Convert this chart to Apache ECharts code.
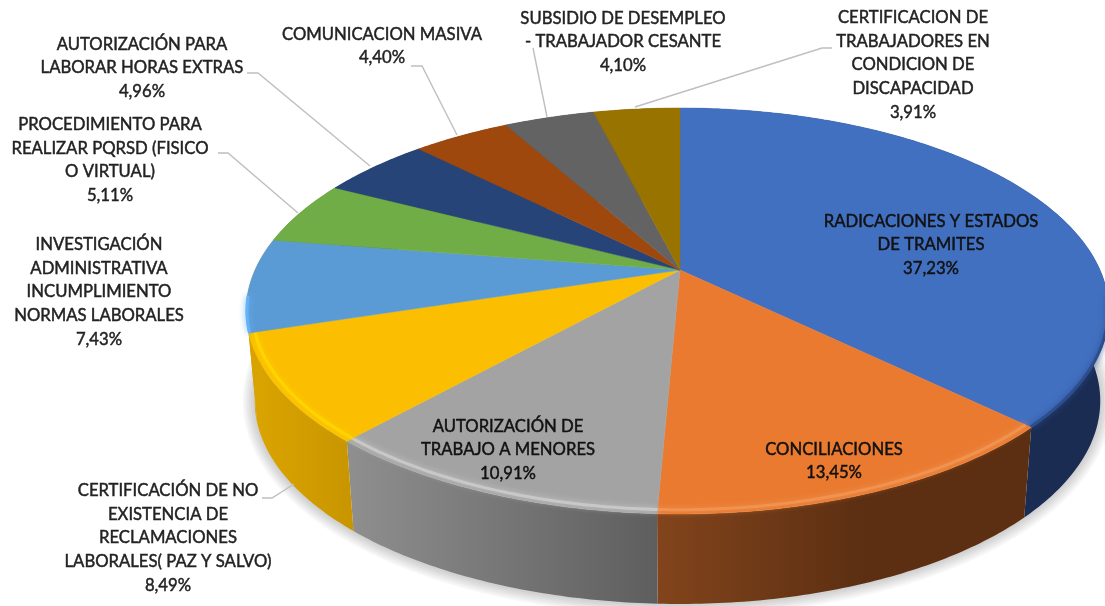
<!DOCTYPE html>
<html>
<head>
<meta charset="utf-8">
<script src="https://cdn.jsdelivr.net/npm/echarts@6/dist/echarts.min.js"></script>
<style>
  html, body { margin: 0; background: #fff; }
  #main { width: 1105px; height: 606px; filter: blur(0.45px); }
</style>
</head>
<body>
<div id="main"></div>
<script>
// datos
const names = [
  'RADICACIONES Y ESTADOS\nDE TRAMITES',
  'CONCILIACIONES',
  'AUTORIZACIÓN DE\nTRABAJO A MENORES',
  'CERTIFICACIÓN DE NO\nEXISTENCIA DE\nRECLAMACIONES\nLABORALES( PAZ Y SALVO)',
  'INVESTIGACIÓN\nADMINISTRATIVA\nINCUMPLIMIENTO\nNORMAS LABORALES',
  'PROCEDIMIENTO PARA\nREALIZAR PQRSD (FISICO\nO VIRTUAL)',
  'AUTORIZACIÓN PARA\nLABORAR HORAS EXTRAS',
  'COMUNICACION MASIVA',
  'SUBSIDIO DE DESEMPLEO\n- TRABAJADOR CESANTE',
  'CERTIFICACION DE\nTRABAJADORES EN\nCONDICION DE\nDISCAPACIDAD'
]
const values = [37.23, 13.45, 10.91, 8.49, 7.43, 5.11, 4.96, 4.40, 4.10, 3.91]

// colores
const topColors = ['#4270c0', '#e97a30', '#a3a3a3', '#fbbe00', '#5b9bd5', '#70ad47', '#264478', '#9e480e', '#636363', '#997300']
const sideLeft = ['#1a2c52', '#82441c', '#8f8f8f', '#dba500', '#d8a200', '#4a7a2c', '#182c50', '#6a3008', '#444444', '#665000']
const sideRight = ['#1a2c52', '#5c2f12', '#5e5e5e', '#c89500', '#d8a200', '#4a7a2c', '#182c50', '#6a3008', '#444444', '#665000']
const sideMid = [1, 0.55, 1, 1, 1, 1, 1, 1, 1, 1]
const rimColors = ['#2d4e8e', '#f09350', '#c8c8c8', '#ffd400', '#66b2f8', null, null, null, null, null]
const rimRadius = [0.998, 0.986, 0.986, 0.986, 0.998, 1, 1, 1, 1, 1]
const shadowWidths = [24, 20, 16, 12, 8, 4]

// posicion de las etiquetas [x, y centro]
const labelPos = [[931, 245], [834, 461], [508, 450], [168, 538], [99, 292], [110, 160], [142, 68], [382, 46], [623, 42], [913, 65]]
const leaders = [
  [[262, 498], [272, 498], [294, 484]],
  [[218, 153], [228, 153], [298, 213]],
  [[247, 73], [258, 73], [370, 166]],
  [[411, 66], [422, 66], [457, 135]],
  [[533, 48], [547, 117]],
  [[832, 48], [822, 48], [635, 107]]
]

// proyeccion del disco en perspectiva
const cx = 680
const cy = 270
const R_LEFT = 425
const R_RIGHT = 420
const B = 194.7
const K = 0.202
const DEPTH = 90
const SHRINK = 0.98

const total = values.reduce((a, b) => a + b, 0)
const starts = []
values.reduce((acc, v, i) => { starts[i] = acc; return acc + v }, 0)
const toRad = (pct) => pct / total * Math.PI * 2

function proj (a, r = 1) {
  const u = Math.sin(a) * r
  const v = -Math.cos(a) * r
  const d = 1 - K * v
  return [cx + (u > 0 ? R_RIGHT : R_LEFT) * u / d, cy + B * v / d]
}
function lower (p) {
  return [cx + (p[0] - cx) * SHRINK, p[1] + DEPTH]
}
function arc (a0, a1, r) {
  const n = Math.max(2, Math.ceil((a1 - a0) / 0.012))
  const pts = []
  for (let i = 0; i <= n; i++) pts.push(proj(a0 + (a1 - a0) * i / n, r))
  return pts
}
function range (i) {
  const a0 = toRad(starts[i])
  return [a0, a0 + toRad(values[i])]
}

// sombra suave: trazos anchos con poca opacidad sobre el contorno inferior
function renderShadow (params) {
  const outline = arc(0, Math.PI * 2, 1).map((p) => lower(p))
  const w = shadowWidths[params.dataIndex]
  return {
    type: 'polyline',
    shape: { points: outline },
    style: { fill: null, stroke: 'rgba(0,0,0,0.03)', lineWidth: w }
  }
}

function renderSide (params) {
  const i = params.dataIndex
  const [a0, a1] = range(i)
  const top = arc(a0, a1, 1)
  const pts = top.concat(top.slice().reverse().map((p) => lower(p)))
  return {
    type: 'polygon',
    shape: { points: pts },
    style: {
      fill: {
        type: 'linear', x: 0, y: 0, x2: 1, y2: 0,
        colorStops: [{ offset: 0, color: sideLeft[i] }, { offset: sideMid[i], color: sideRight[i] }, { offset: 1, color: sideRight[i] }]
      }
    }
  }
}

function renderTop (params) {
  const i = params.dataIndex
  const [a0, a1] = range(i)
  const children = [{
    type: 'polygon',
    shape: { points: [[cx, cy]].concat(arc(a0, a1, 1)) },
    style: { fill: topColors[i], stroke: topColors[i], lineWidth: 0.5 }
  }]
  if (rimColors[i]) {
    // brillo del borde, solo en la mitad frontal
    const rim = arc(a0, a1, rimRadius[i]).filter((p) => p[1] > cy + 25)
    children.push({
      type: 'polyline',
      shape: { points: rim },
      style: { fill: null, stroke: rimColors[i], lineWidth: 3, shadowBlur: 6, shadowColor: rimColors[i] }
    })
  }
  return { type: 'group', children }
}

function renderLabel (params) {
  const i = params.dataIndex
  const pct = values[i].toFixed(2).replace('.', ',') + '%'
  const color = i < 3 ? '#111' : '#222'
  return {
    type: 'text',
    x: labelPos[i][0],
    y: labelPos[i][1],
    style: {
      text: names[i] + '\n' + pct,
      fontFamily: 'Lato',
      fontSize: 16.7,
      lineHeight: 23.6,
      fill: color,
      stroke: color,
      lineWidth: 0.45,
      align: 'center',
      verticalAlign: 'middle'
    }
  }
}

function renderLeader (params) {
  return {
    type: 'polyline',
    shape: { points: leaders[params.dataIndex] },
    style: { fill: null, stroke: '#bfbfbf', lineWidth: 1.4 }
  }
}

const myChart = echarts.init(document.getElementById('main'), null, { renderer: 'canvas' })
const sliceData = values.map((v, i) => [i, v])
myChart.setOption({
  animation: false,
  backgroundColor: '#fff',
  series: [
    { type: 'custom', coordinateSystem: 'none', silent: true, data: shadowWidths.map((w, i) => [i, w]), renderItem: renderShadow },
    { type: 'custom', coordinateSystem: 'none', silent: true, data: sliceData, renderItem: renderSide },
    { type: 'custom', coordinateSystem: 'none', silent: true, data: sliceData, renderItem: renderTop },
    { type: 'custom', coordinateSystem: 'none', silent: true, data: leaders.map((l, i) => [i]), renderItem: renderLeader },
    { type: 'custom', coordinateSystem: 'none', silent: true, data: sliceData, renderItem: renderLabel }
  ]
})
</script>
</body>
</html>
